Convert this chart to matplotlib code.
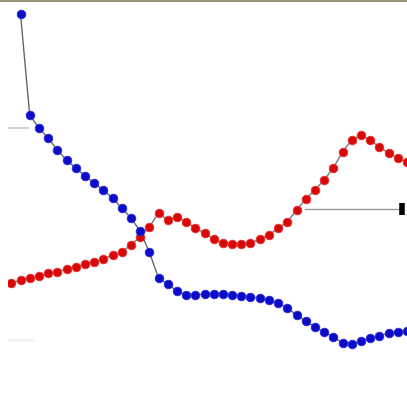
import matplotlib.pyplot as plt
import numpy as np

# Data: sample index and curve heights (height above the bottom of the frame)
blue_x = list(range(0, 43))
blue_y = [382, 281, 268, 258, 246, 236, 228, 220, 213, 206, 198, 188, 178, 165,
          144, 118, 112, 105, 101, 101, 102, 102, 102, 101, 100, 99, 98, 96, 93,
          88, 81, 75, 69, 64, 59, 53, 52, 55, 58, 60, 63, 64, 65]

red_x = list(range(-1, 43))
red_y = [113, 116, 118, 120, 123, 124, 127, 129, 132, 134, 137, 141, 144, 151,
         159, 169, 183, 176, 179, 174, 168, 163, 157, 153, 152, 152, 153, 157,
         161, 168, 174, 186, 197, 206, 216, 228, 244, 256, 261, 256, 249, 243,
         238, 234]

W, H = 407, 396
fig = plt.figure(figsize=(W / 100, H / 100), dpi=100)
fig.patch.set_facecolor('white')

# axes occupies the frame below the top rule, leaving a small white strip on the left
ax = fig.add_axes([8 / W, 0, (W - 8) / W, (H - 2) / H])
ax.set_xlim((8 - 20.5) / 9.2, (W - 20.5) / 9.2)
ax.set_ylim(0, H - 2)
ax.axis('off')

# connecting lines
ax.plot(red_x, red_y, color='#777777', linewidth=1.0, zorder=2)
ax.plot(blue_x, blue_y, color='#666666', linewidth=1.0, zorder=2)

# dots
ax.plot(red_x, red_y, linestyle='none', marker='o', markersize=6.2,
        markerfacecolor='#d80808', markeredgecolor='#e83030', markeredgewidth=0.6,
        zorder=3)
ax.plot(blue_x, blue_y, linestyle='none', marker='o', markersize=6.2,
        markerfacecolor='#0c0cc8', markeredgecolor='#2a2ad8', markeredgewidth=0.6,
        zorder=4)

# reference marks
ax.plot([(8 - 20.5) / 9.2, (28 - 20.5) / 9.2], [H - 128, H - 128],
        color='#c8c8c8', linewidth=1.2, zorder=1)
ax.plot([(8 - 20.5) / 9.2, (33 - 20.5) / 9.2], [H - 340, H - 340],
        color='#f0f0f0', linewidth=2, zorder=1)
ax.plot([(305 - 20.5) / 9.2, (400 - 20.5) / 9.2], [H - 209, H - 209],
        color='#999999', linewidth=1.0, zorder=1)
ax.plot([(402 - 20.5) / 9.2], [H - 209], marker='|', markersize=9,
        markeredgewidth=4, color='black', zorder=5, clip_on=False)

# top rule
fig.add_artist(plt.Rectangle((0, 1 - 2 / H), 1, 2 / H, transform=fig.transFigure,
                             facecolor='#9b9377', edgecolor='none'))

fig.savefig('out.png', dpi=100)
